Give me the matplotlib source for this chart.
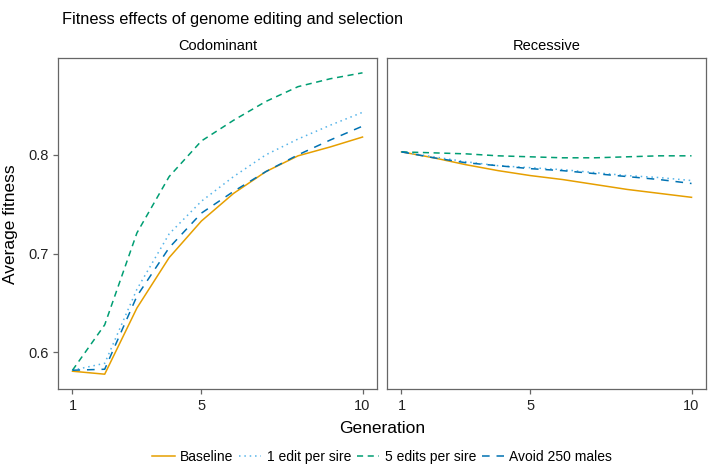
import numpy as np
import matplotlib.pyplot as plt

plt.rcParams["font.family"] = ["Liberation Sans", "DejaVu Sans"]

# -----------------------------------------------------------------------------
# Dados
# -----------------------------------------------------------------------------
geracao = np.arange(1, 11)

paineis = ["Codominant", "Recessive"]
cenarios = ["Baseline", "1 edit per sire", "5 edits per sire", "Avoid 250 males"]

codominante = {
    "Baseline":         [0.581, 0.578, 0.645, 0.696, 0.733, 0.761, 0.783, 0.799, 0.808, 0.818],
    "1 edit per sire":  [0.582, 0.589, 0.664, 0.720, 0.753, 0.778, 0.800, 0.816, 0.830, 0.843],
    "5 edits per sire": [0.582, 0.628, 0.721, 0.778, 0.814, 0.835, 0.854, 0.869, 0.877, 0.883],
    "Avoid 250 males":  [0.582, 0.583, 0.657, 0.706, 0.741, 0.763, 0.783, 0.800, 0.815, 0.829],
}

recessivo = {
    "Baseline":         [0.803, 0.797, 0.790, 0.784, 0.779, 0.775, 0.770, 0.765, 0.761, 0.757],
    "1 edit per sire":  [0.803, 0.798, 0.793, 0.789, 0.787, 0.785, 0.782, 0.779, 0.777, 0.774],
    "5 edits per sire": [0.803, 0.802, 0.801, 0.799, 0.798, 0.797, 0.797, 0.798, 0.799, 0.799],
    "Avoid 250 males":  [0.803, 0.797, 0.792, 0.789, 0.786, 0.784, 0.781, 0.778, 0.775, 0.771],
}

dados = [codominante, recessivo]

cores = {
    "Baseline": "#E69F00",
    "1 edit per sire": "#56B4E9",
    "5 edits per sire": "#009E73",
    "Avoid 250 males": "#0072B2",
}
estilos = {
    "Baseline": "-",
    "1 edit per sire": (0, (1, 2.5)),
    "5 edits per sire": (0, (4, 3)),
    "Avoid 250 males": (0, (5, 4.5)),
}

# -----------------------------------------------------------------------------
# Figura
# -----------------------------------------------------------------------------
fig = plt.figure(figsize=(7.08, 4.67), dpi=100)

eixos = []
for i, nome in enumerate(paineis):
    esq = 0.0819 + i * 0.4647
    ax = fig.add_axes([esq, 0.167, 0.4506, 0.7088])
    for cen in cenarios:
        ax.plot(geracao, dados[i][cen], color=cores[cen], linestyle=estilos[cen],
                lw=1.1, label=cen)
    ax.set_xlim(0.55, 10.45)
    ax.set_ylim(0.563, 0.898)
    ax.set_xticks([1, 5, 10])
    ax.set_yticks([0.6, 0.7, 0.8])
    ax.set_yticklabels(["0.6", "0.7", "0.8"])
    for s in ax.spines.values():
        s.set_color("#666666")
        s.set_linewidth(0.9)
    ax.tick_params(color="#666666", length=3.5, width=0.9, labelsize=10.5,
                   labelcolor="#222222")
    if i == 1:
        ax.tick_params(axis="y", left=False, labelleft=False)
    ax.set_title(nome, fontsize=10.5, pad=6)
    eixos.append(ax)

fig.text(0.088, 0.975, "Fitness effects of genome editing and selection",
         fontsize=11.8, va="top", ha="left")
fig.text(0.015, 0.52, "Average fitness", rotation=90, fontsize=12.5,
         va="center", ha="center")
fig.text(0.54, 0.083, "Generation", fontsize=12.5, va="center", ha="center")

h, l = eixos[0].get_legend_handles_labels()
fig.legend(h, l, loc="center", bbox_to_anchor=(0.54, 0.022), ncol=4,
           frameon=False, fontsize=10, handlelength=1.6, handletextpad=0.4,
           columnspacing=0.4)

plt.savefig("out.png", dpi=100)
